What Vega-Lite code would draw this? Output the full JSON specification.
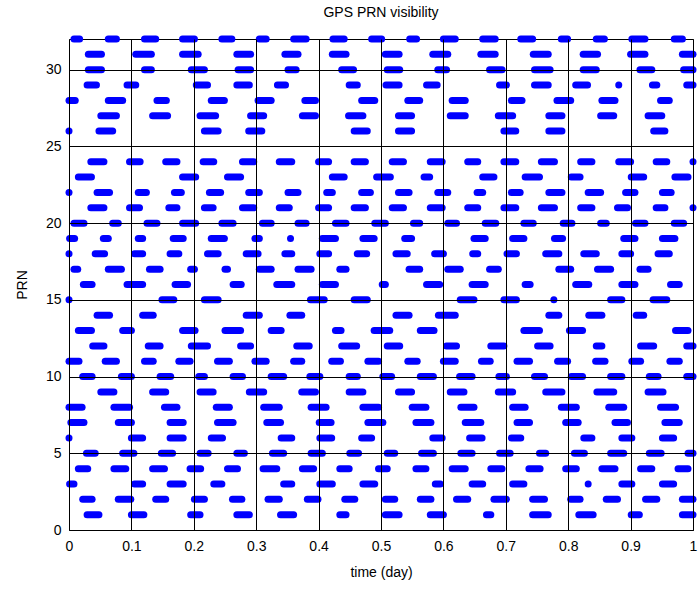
{
"$schema":"https://vega.github.io/schema/vega-lite/v6.json",
"width":624,"height":491,
"autosize":{"type":"none"},
"padding":{"left":69,"top":39,"right":7,"bottom":60},
"background":"white",
"title":{"text":"GPS PRN visibility","fontSize":14,"fontWeight":"normal","font":"Liberation Sans","color":"black","offset":16},
"config":{"view":{"stroke":"black","strokeWidth":1},"font":"Liberation Sans"},
"data":{"values":[
{"prn":32,"t0":0.008,"t1":0.017},{"prn":32,"t0":0.063,"t1":0.076},{"prn":32,"t0":0.121,"t1":0.139},{"prn":32,"t0":0.182,"t1":0.201},{"prn":32,"t0":0.245,"t1":0.261},{"prn":32,"t0":0.305,"t1":0.316},{"prn":32,"t0":0.360,"t1":0.380},{"prn":32,"t0":0.423,"t1":0.441},{"prn":32,"t0":0.485,"t1":0.501},{"prn":32,"t0":0.546,"t1":0.557},{"prn":32,"t0":0.600,"t1":0.619},{"prn":32,"t0":0.663,"t1":0.683},{"prn":32,"t0":0.724,"t1":0.743},{"prn":32,"t0":0.789,"t1":0.799},{"prn":32,"t0":0.845,"t1":0.858},{"prn":32,"t0":0.902,"t1":0.923},{"prn":32,"t0":0.970,"t1":0.983},
{"prn":31,"t0":0.031,"t1":0.052},{"prn":31,"t0":0.107,"t1":0.132},{"prn":31,"t0":0.182,"t1":0.207},{"prn":31,"t0":0.269,"t1":0.291},{"prn":31,"t0":0.346,"t1":0.367},{"prn":31,"t0":0.422,"t1":0.444},{"prn":31,"t0":0.507,"t1":0.529},{"prn":31,"t0":0.583,"t1":0.607},{"prn":31,"t0":0.660,"t1":0.683},{"prn":31,"t0":0.744,"t1":0.768},{"prn":31,"t0":0.824,"t1":0.847},{"prn":31,"t0":0.900,"t1":0.923},{"prn":31,"t0":0.983,"t1":1.0},
{"prn":30,"t0":0.031,"t1":0.052},{"prn":30,"t0":0.121,"t1":0.132},{"prn":30,"t0":0.196,"t1":0.217},{"prn":30,"t0":0.271,"t1":0.291},{"prn":30,"t0":0.351,"t1":0.364},{"prn":30,"t0":0.437,"t1":0.456},{"prn":30,"t0":0.510,"t1":0.530},{"prn":30,"t0":0.591,"t1":0.605},{"prn":30,"t0":0.674,"t1":0.694},{"prn":30,"t0":0.746,"t1":0.771},{"prn":30,"t0":0.824,"t1":0.845},{"prn":30,"t0":0.915,"t1":0.934},{"prn":30,"t0":0.985,"t1":1.0},
{"prn":29,"t0":0.029,"t1":0.044},{"prn":29,"t0":0.093,"t1":0.107},{"prn":29,"t0":0.204,"t1":0.222},{"prn":29,"t0":0.269,"t1":0.289},{"prn":29,"t0":0.334,"t1":0.347},{"prn":29,"t0":0.449,"t1":0.462},{"prn":29,"t0":0.508,"t1":0.529},{"prn":29,"t0":0.573,"t1":0.590},{"prn":29,"t0":0.690,"t1":0.701},{"prn":29,"t0":0.746,"t1":0.768},{"prn":29,"t0":0.812,"t1":0.831},{"prn":29,"t0":0.881,"t1":0.881},{"prn":29,"t0":0.935,"t1":0.942},{"prn":29,"t0":0.990,"t1":1.0},
{"prn":28,"t0":0.0,"t1":0.010},{"prn":28,"t0":0.063,"t1":0.086},{"prn":28,"t0":0.141,"t1":0.156},{"prn":28,"t0":0.228,"t1":0.249},{"prn":28,"t0":0.303,"t1":0.324},{"prn":28,"t0":0.378,"t1":0.395},{"prn":28,"t0":0.469,"t1":0.490},{"prn":28,"t0":0.543,"t1":0.562},{"prn":28,"t0":0.614,"t1":0.635},{"prn":28,"t0":0.709,"t1":0.726},{"prn":28,"t0":0.782,"t1":0.804},{"prn":28,"t0":0.854,"t1":0.875},{"prn":28,"t0":0.948,"t1":0.962},
{"prn":27,"t0":0.051,"t1":0.076},{"prn":27,"t0":0.134,"t1":0.158},{"prn":27,"t0":0.210,"t1":0.235},{"prn":27,"t0":0.291,"t1":0.312},{"prn":27,"t0":0.374,"t1":0.395},{"prn":27,"t0":0.448,"t1":0.471},{"prn":27,"t0":0.528,"t1":0.549},{"prn":27,"t0":0.611,"t1":0.635},{"prn":27,"t0":0.688,"t1":0.711},{"prn":27,"t0":0.769,"t1":0.790},{"prn":27,"t0":0.852,"t1":0.873},{"prn":27,"t0":0.928,"t1":0.950},
{"prn":26,"t0":0.0,"t1":0.0},{"prn":26,"t0":0.048,"t1":0.070},{"prn":26,"t0":0.217,"t1":0.239},{"prn":26,"t0":0.288,"t1":0.309},{"prn":26,"t0":0.457,"t1":0.478},{"prn":26,"t0":0.528,"t1":0.549},{"prn":26,"t0":0.697,"t1":0.716},{"prn":26,"t0":0.769,"t1":0.790},{"prn":26,"t0":0.937,"t1":0.955},
{"prn":24,"t0":0.035,"t1":0.056},{"prn":24,"t0":0.097,"t1":0.114},{"prn":24,"t0":0.155,"t1":0.173},{"prn":24,"t0":0.215,"t1":0.232},{"prn":24,"t0":0.278,"t1":0.296},{"prn":24,"t0":0.337,"t1":0.357},{"prn":24,"t0":0.400,"t1":0.416},{"prn":24,"t0":0.457,"t1":0.475},{"prn":24,"t0":0.518,"t1":0.536},{"prn":24,"t0":0.579,"t1":0.598},{"prn":24,"t0":0.639,"t1":0.655},{"prn":24,"t0":0.697,"t1":0.716},{"prn":24,"t0":0.757,"t1":0.778},{"prn":24,"t0":0.820,"t1":0.838},{"prn":24,"t0":0.881,"t1":0.900},{"prn":24,"t0":0.941,"t1":0.958},{"prn":24,"t0":1.0,"t1":1.0},
{"prn":23,"t0":0.015,"t1":0.036},{"prn":23,"t0":0.182,"t1":0.203},{"prn":23,"t0":0.254,"t1":0.275},{"prn":23,"t0":0.422,"t1":0.441},{"prn":23,"t0":0.493,"t1":0.515},{"prn":23,"t0":0.569,"t1":0.578},{"prn":23,"t0":0.663,"t1":0.681},{"prn":23,"t0":0.731,"t1":0.754},{"prn":23,"t0":0.805,"t1":0.819},{"prn":23,"t0":0.901,"t1":0.921},{"prn":23,"t0":0.971,"t1":0.992},
{"prn":22,"t0":0.0,"t1":0.0},{"prn":22,"t0":0.045,"t1":0.065},{"prn":22,"t0":0.111,"t1":0.124},{"prn":22,"t0":0.169,"t1":0.180},{"prn":22,"t0":0.225,"t1":0.243},{"prn":22,"t0":0.288,"t1":0.305},{"prn":22,"t0":0.351,"t1":0.367},{"prn":22,"t0":0.413,"t1":0.422},{"prn":22,"t0":0.469,"t1":0.483},{"prn":22,"t0":0.528,"t1":0.545},{"prn":22,"t0":0.591,"t1":0.607},{"prn":22,"t0":0.654,"t1":0.663},{"prn":22,"t0":0.709,"t1":0.723},{"prn":22,"t0":0.769,"t1":0.790},{"prn":22,"t0":0.832,"t1":0.852},{"prn":22,"t0":0.892,"t1":0.907},{"prn":22,"t0":0.951,"t1":0.965},
{"prn":21,"t0":0.035,"t1":0.056},{"prn":21,"t0":0.097,"t1":0.113},{"prn":21,"t0":0.160,"t1":0.173},{"prn":21,"t0":0.217,"t1":0.231},{"prn":21,"t0":0.278,"t1":0.296},{"prn":21,"t0":0.337,"t1":0.353},{"prn":21,"t0":0.400,"t1":0.416},{"prn":21,"t0":0.457,"t1":0.475},{"prn":21,"t0":0.518,"t1":0.536},{"prn":21,"t0":0.579,"t1":0.598},{"prn":21,"t0":0.639,"t1":0.655},{"prn":21,"t0":0.697,"t1":0.716},{"prn":21,"t0":0.757,"t1":0.778},{"prn":21,"t0":0.820,"t1":0.838},{"prn":21,"t0":0.879,"t1":0.895},{"prn":21,"t0":0.941,"t1":0.955},{"prn":21,"t0":1.0,"t1":1.0},
{"prn":20,"t0":0.008,"t1":0.024},{"prn":20,"t0":0.070,"t1":0.079},{"prn":20,"t0":0.125,"t1":0.141},{"prn":20,"t0":0.182,"t1":0.203},{"prn":20,"t0":0.245,"t1":0.263},{"prn":20,"t0":0.310,"t1":0.324},{"prn":20,"t0":0.367,"t1":0.380},{"prn":20,"t0":0.427,"t1":0.444},{"prn":20,"t0":0.490,"t1":0.507},{"prn":20,"t0":0.552,"t1":0.562},{"prn":20,"t0":0.607,"t1":0.621},{"prn":20,"t0":0.667,"t1":0.684},{"prn":20,"t0":0.729,"t1":0.744},{"prn":20,"t0":0.792,"t1":0.806},{"prn":20,"t0":0.852,"t1":0.861},{"prn":20,"t0":0.908,"t1":0.923},{"prn":20,"t0":0.970,"t1":0.985},
{"prn":19,"t0":0.001,"t1":0.009},{"prn":19,"t0":0.055,"t1":0.063},{"prn":19,"t0":0.111,"t1":0.118},{"prn":19,"t0":0.167,"t1":0.183},{"prn":19,"t0":0.228,"t1":0.249},{"prn":19,"t0":0.298,"t1":0.305},{"prn":19,"t0":0.355,"t1":0.355},{"prn":19,"t0":0.406,"t1":0.427},{"prn":19,"t0":0.471,"t1":0.489},{"prn":19,"t0":0.538,"t1":0.549},{"prn":19,"t0":0.649,"t1":0.667},{"prn":19,"t0":0.711,"t1":0.729},{"prn":19,"t0":0.778,"t1":0.791},{"prn":19,"t0":0.889,"t1":0.907},{"prn":19,"t0":0.951,"t1":0.971},
{"prn":18,"t0":0.0,"t1":0.0},{"prn":18,"t0":0.042,"t1":0.057},{"prn":18,"t0":0.105,"t1":0.118},{"prn":18,"t0":0.162,"t1":0.176},{"prn":18,"t0":0.222,"t1":0.239},{"prn":18,"t0":0.284,"t1":0.303},{"prn":18,"t0":0.346,"t1":0.357},{"prn":18,"t0":0.402,"t1":0.416},{"prn":18,"t0":0.462,"t1":0.477},{"prn":18,"t0":0.524,"t1":0.542},{"prn":18,"t0":0.586,"t1":0.600},{"prn":18,"t0":0.647,"t1":0.655},{"prn":18,"t0":0.702,"t1":0.717},{"prn":18,"t0":0.764,"t1":0.785},{"prn":18,"t0":0.825,"t1":0.845},{"prn":18,"t0":0.886,"t1":0.900},{"prn":18,"t0":0.944,"t1":0.962},
{"prn":17,"t0":0.008,"t1":0.014},{"prn":17,"t0":0.063,"t1":0.084},{"prn":17,"t0":0.129,"t1":0.146},{"prn":17,"t0":0.195,"t1":0.201},{"prn":17,"t0":0.250,"t1":0.254},{"prn":17,"t0":0.305,"t1":0.324},{"prn":17,"t0":0.367,"t1":0.388},{"prn":17,"t0":0.434,"t1":0.444},{"prn":17,"t0":0.545,"t1":0.562},{"prn":17,"t0":0.607,"t1":0.627},{"prn":17,"t0":0.674,"t1":0.688},{"prn":17,"t0":0.785,"t1":0.804},{"prn":17,"t0":0.847,"t1":0.868},{"prn":17,"t0":0.915,"t1":0.928},
{"prn":16,"t0":0.023,"t1":0.037},{"prn":16,"t0":0.093,"t1":0.118},{"prn":16,"t0":0.170,"t1":0.190},{"prn":16,"t0":0.263,"t1":0.276},{"prn":16,"t0":0.333,"t1":0.357},{"prn":16,"t0":0.406,"t1":0.427},{"prn":16,"t0":0.502,"t1":0.507},{"prn":16,"t0":0.573,"t1":0.594},{"prn":16,"t0":0.646,"t1":0.667},{"prn":16,"t0":0.731,"t1":0.739},{"prn":16,"t0":0.812,"t1":0.833},{"prn":16,"t0":0.886,"t1":0.907},{"prn":16,"t0":0.964,"t1":0.978},
{"prn":15,"t0":0.0,"t1":0.0},{"prn":15,"t0":0.149,"t1":0.168},{"prn":15,"t0":0.217,"t1":0.239},{"prn":15,"t0":0.387,"t1":0.409},{"prn":15,"t0":0.457,"t1":0.478},{"prn":15,"t0":0.627,"t1":0.649},{"prn":15,"t0":0.697,"t1":0.717},{"prn":15,"t0":0.777,"t1":0.777},{"prn":15,"t0":0.868,"t1":0.886},{"prn":15,"t0":0.936,"t1":0.958},
{"prn":14,"t0":0.045,"t1":0.065},{"prn":14,"t0":0.118,"t1":0.135},{"prn":14,"t0":0.284,"t1":0.305},{"prn":14,"t0":0.354,"t1":0.373},{"prn":14,"t0":0.524,"t1":0.545},{"prn":14,"t0":0.592,"t1":0.619},{"prn":14,"t0":0.769,"t1":0.785},{"prn":14,"t0":0.833,"t1":0.854},{"prn":14,"t0":0.909,"t1":0.921},
{"prn":13,"t0":0.015,"t1":0.036},{"prn":13,"t0":0.086,"t1":0.100},{"prn":13,"t0":0.182,"t1":0.202},{"prn":13,"t0":0.250,"t1":0.275},{"prn":13,"t0":0.324,"t1":0.340},{"prn":13,"t0":0.427,"t1":0.436},{"prn":13,"t0":0.489,"t1":0.514},{"prn":13,"t0":0.563,"t1":0.585},{"prn":13,"t0":0.729,"t1":0.754},{"prn":13,"t0":0.802,"t1":0.823},{"prn":13,"t0":0.972,"t1":0.992},
{"prn":12,"t0":0.038,"t1":0.056},{"prn":12,"t0":0.127,"t1":0.146},{"prn":12,"t0":0.196,"t1":0.222},{"prn":12,"t0":0.275,"t1":0.291},{"prn":12,"t0":0.365,"t1":0.385},{"prn":12,"t0":0.437,"t1":0.461},{"prn":12,"t0":0.510,"t1":0.530},{"prn":12,"t0":0.605,"t1":0.621},{"prn":12,"t0":0.676,"t1":0.697},{"prn":12,"t0":0.751,"t1":0.771},{"prn":12,"t0":0.845,"t1":0.854},{"prn":12,"t0":0.916,"t1":0.937},{"prn":12,"t0":0.990,"t1":1.0},
{"prn":11,"t0":0.0,"t1":0.016},{"prn":11,"t0":0.058,"t1":0.076},{"prn":11,"t0":0.121,"t1":0.135},{"prn":11,"t0":0.176,"t1":0.194},{"prn":11,"t0":0.238,"t1":0.257},{"prn":11,"t0":0.298,"t1":0.316},{"prn":11,"t0":0.360,"t1":0.373},{"prn":11,"t0":0.421,"t1":0.435},{"prn":11,"t0":0.479,"t1":0.496},{"prn":11,"t0":0.543,"t1":0.558},{"prn":11,"t0":0.600,"t1":0.619},{"prn":11,"t0":0.661,"t1":0.675},{"prn":11,"t0":0.718,"t1":0.738},{"prn":11,"t0":0.783,"t1":0.799},{"prn":11,"t0":0.844,"t1":0.859},{"prn":11,"t0":0.902,"t1":0.916},{"prn":11,"t0":0.963,"t1":0.978},
{"prn":10,"t0":0.022,"t1":0.037},{"prn":10,"t0":0.084,"t1":0.100},{"prn":10,"t0":0.146,"t1":0.163},{"prn":10,"t0":0.208,"t1":0.217},{"prn":10,"t0":0.263,"t1":0.278},{"prn":10,"t0":0.324,"t1":0.344},{"prn":10,"t0":0.386,"t1":0.402},{"prn":10,"t0":0.449,"t1":0.462},{"prn":10,"t0":0.503,"t1":0.517},{"prn":10,"t0":0.563,"t1":0.584},{"prn":10,"t0":0.626,"t1":0.646},{"prn":10,"t0":0.689,"t1":0.701},{"prn":10,"t0":0.746,"t1":0.762},{"prn":10,"t0":0.805,"t1":0.823},{"prn":10,"t0":0.868,"t1":0.886},{"prn":10,"t0":0.930,"t1":0.944},{"prn":10,"t0":0.990,"t1":1.0},
{"prn":9,"t0":0.051,"t1":0.072},{"prn":9,"t0":0.134,"t1":0.155},{"prn":9,"t0":0.210,"t1":0.231},{"prn":9,"t0":0.289,"t1":0.312},{"prn":9,"t0":0.373,"t1":0.395},{"prn":9,"t0":0.449,"t1":0.471},{"prn":9,"t0":0.528,"t1":0.549},{"prn":9,"t0":0.611,"t1":0.633},{"prn":9,"t0":0.688,"t1":0.711},{"prn":9,"t0":0.764,"t1":0.790},{"prn":9,"t0":0.846,"t1":0.873},{"prn":9,"t0":0.928,"t1":0.952},
{"prn":8,"t0":0.0,"t1":0.021},{"prn":8,"t0":0.072,"t1":0.097},{"prn":8,"t0":0.153,"t1":0.173},{"prn":8,"t0":0.236,"t1":0.257},{"prn":8,"t0":0.312,"t1":0.337},{"prn":8,"t0":0.388,"t1":0.412},{"prn":8,"t0":0.471,"t1":0.496},{"prn":8,"t0":0.550,"t1":0.572},{"prn":8,"t0":0.628,"t1":0.649},{"prn":8,"t0":0.711,"t1":0.731},{"prn":8,"t0":0.789,"t1":0.813},{"prn":8,"t0":0.865,"t1":0.889},{"prn":8,"t0":0.948,"t1":0.972},
{"prn":7,"t0":0.003,"t1":0.024},{"prn":7,"t0":0.079,"t1":0.100},{"prn":7,"t0":0.162,"t1":0.183},{"prn":7,"t0":0.238,"t1":0.263},{"prn":7,"t0":0.317,"t1":0.339},{"prn":7,"t0":0.401,"t1":0.420},{"prn":7,"t0":0.479,"t1":0.503},{"prn":7,"t0":0.556,"t1":0.580},{"prn":7,"t0":0.635,"t1":0.660},{"prn":7,"t0":0.718,"t1":0.738},{"prn":7,"t0":0.796,"t1":0.816},{"prn":7,"t0":0.875,"t1":0.895},{"prn":7,"t0":0.955,"t1":0.978},
{"prn":6,"t0":0.0,"t1":0.0},{"prn":6,"t0":0.100,"t1":0.118},{"prn":6,"t0":0.162,"t1":0.183},{"prn":6,"t0":0.228,"t1":0.246},{"prn":6,"t0":0.340,"t1":0.357},{"prn":6,"t0":0.402,"t1":0.421},{"prn":6,"t0":0.469,"t1":0.485},{"prn":6,"t0":0.583,"t1":0.598},{"prn":6,"t0":0.642,"t1":0.662},{"prn":6,"t0":0.709,"t1":0.724},{"prn":6,"t0":0.825,"t1":0.838},{"prn":6,"t0":0.886,"t1":0.902},{"prn":6,"t0":0.951,"t1":0.969},
{"prn":5,"t0":0.028,"t1":0.042},{"prn":5,"t0":0.086,"t1":0.104},{"prn":5,"t0":0.148,"t1":0.166},{"prn":5,"t0":0.210,"t1":0.223},{"prn":5,"t0":0.269,"t1":0.281},{"prn":5,"t0":0.326,"t1":0.344},{"prn":5,"t0":0.388,"t1":0.406},{"prn":5,"t0":0.450,"t1":0.464},{"prn":5,"t0":0.510,"t1":0.522},{"prn":5,"t0":0.565,"t1":0.584},{"prn":5,"t0":0.628,"t1":0.646},{"prn":5,"t0":0.690,"t1":0.707},{"prn":5,"t0":0.754,"t1":0.764},{"prn":5,"t0":0.810,"t1":0.826},{"prn":5,"t0":0.868,"t1":0.889},{"prn":5,"t0":0.930,"t1":0.949},{"prn":5,"t0":0.992,"t1":1.0},
{"prn":4,"t0":0.015,"t1":0.030},{"prn":4,"t0":0.072,"t1":0.091},{"prn":4,"t0":0.134,"t1":0.153},{"prn":4,"t0":0.194,"t1":0.211},{"prn":4,"t0":0.254,"t1":0.270},{"prn":4,"t0":0.311,"t1":0.333},{"prn":4,"t0":0.374,"t1":0.392},{"prn":4,"t0":0.434,"t1":0.449},{"prn":4,"t0":0.496,"t1":0.510},{"prn":4,"t0":0.556,"t1":0.572},{"prn":4,"t0":0.614,"t1":0.635},{"prn":4,"t0":0.676,"t1":0.694},{"prn":4,"t0":0.737,"t1":0.755},{"prn":4,"t0":0.796,"t1":0.813},{"prn":4,"t0":0.854,"t1":0.875},{"prn":4,"t0":0.916,"t1":0.934},{"prn":4,"t0":0.976,"t1":0.992},
{"prn":3,"t0":0.001,"t1":0.008},{"prn":3,"t0":0.105,"t1":0.118},{"prn":3,"t0":0.162,"t1":0.183},{"prn":3,"t0":0.232,"t1":0.245},{"prn":3,"t0":0.344,"t1":0.357},{"prn":3,"t0":0.402,"t1":0.422},{"prn":3,"t0":0.471,"t1":0.490},{"prn":3,"t0":0.587,"t1":0.595},{"prn":3,"t0":0.646,"t1":0.663},{"prn":3,"t0":0.711,"t1":0.729},{"prn":3,"t0":0.832,"t1":0.832},{"prn":3,"t0":0.886,"t1":0.902},{"prn":3,"t0":0.951,"t1":0.969},
{"prn":2,"t0":0.022,"t1":0.037},{"prn":2,"t0":0.079,"t1":0.099},{"prn":2,"t0":0.139,"t1":0.155},{"prn":2,"t0":0.201,"t1":0.217},{"prn":2,"t0":0.262,"t1":0.277},{"prn":2,"t0":0.319,"t1":0.337},{"prn":2,"t0":0.382,"t1":0.399},{"prn":2,"t0":0.442,"t1":0.458},{"prn":2,"t0":0.507,"t1":0.522},{"prn":2,"t0":0.563,"t1":0.580},{"prn":2,"t0":0.621,"t1":0.639},{"prn":2,"t0":0.681,"t1":0.701},{"prn":2,"t0":0.743,"t1":0.762},{"prn":2,"t0":0.804,"t1":0.819},{"prn":2,"t0":0.861,"t1":0.879},{"prn":2,"t0":0.924,"t1":0.942},{"prn":2,"t0":0.983,"t1":1.0},
{"prn":1,"t0":0.029,"t1":0.048},{"prn":1,"t0":0.100,"t1":0.120},{"prn":1,"t0":0.195,"t1":0.210},{"prn":1,"t0":0.269,"t1":0.289},{"prn":1,"t0":0.339,"t1":0.360},{"prn":1,"t0":0.434,"t1":0.444},{"prn":1,"t0":0.507,"t1":0.529},{"prn":1,"t0":0.579,"t1":0.600},{"prn":1,"t0":0.669,"t1":0.676},{"prn":1,"t0":0.743,"t1":0.768},{"prn":1,"t0":0.817,"t1":0.840},{"prn":1,"t0":0.901,"t1":0.914},{"prn":1,"t0":0.983,"t1":1.0}
]},
"mark":{"type":"rule","color":"#0000FF","strokeWidth":7,"strokeCap":"round","clip":false},
"encoding":{
"x":{"field":"t0","type":"quantitative","scale":{"domain":[0,1],"nice":false,"zero":false},
"axis":{"title":"time (day)","values":[0,0.1,0.2,0.3,0.4,0.5,0.6,0.7,0.8,0.9,1],"format":"~g","grid":true,"gridColor":"black","gridOpacity":1,"gridWidth":1,"domain":false,"ticks":false,"labelPadding":9,"labelFontSize":14,"labelColor":"black","labelFont":"Liberation Sans","titleFont":"Liberation Sans","titleFontSize":14,"titleFontWeight":"normal","titleColor":"black","titlePadding":12,"zindex":1,"labelFlush":false}},
"x2":{"field":"t1"},
"y":{"field":"prn","type":"quantitative","scale":{"domain":[0,32],"nice":false,"zero":false},
"axis":{"title":"PRN","values":[0,5,10,15,20,25,30],"grid":true,"gridColor":"black","gridOpacity":1,"gridWidth":1,"domain":false,"ticks":false,"labelPadding":8,"labelFontSize":14,"labelColor":"black","labelFont":"Liberation Sans","titleFont":"Liberation Sans","titleFontSize":14,"titleFontWeight":"normal","titleColor":"black","titlePadding":16,"zindex":1,"labelFlush":false}}
}
}
